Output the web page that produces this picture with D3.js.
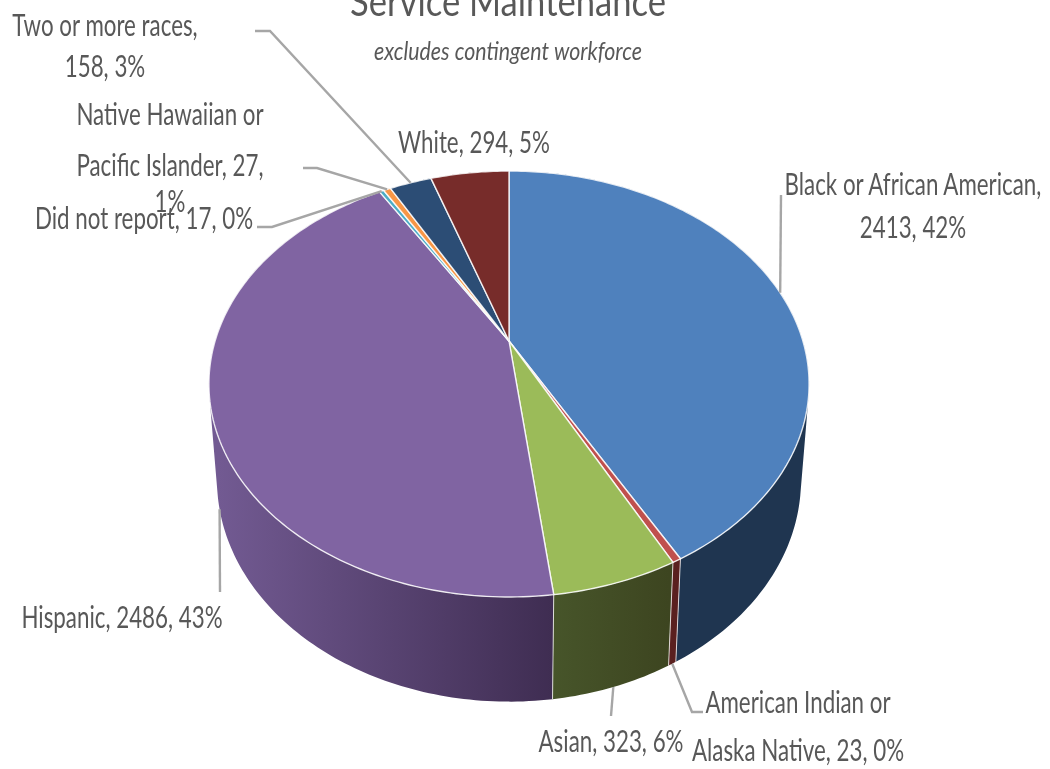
<!DOCTYPE html>
<html>
<head>
<meta charset="utf-8">
<script src="https://cdnjs.cloudflare.com/ajax/libs/d3/7.8.5/d3.min.js"></script>
<style>
  html, body { margin: 0; padding: 0; background: #fff; overflow: hidden; }
  text { font-family: Lato, "Liberation Sans", sans-serif; fill: #595959; }
</style>
</head>
<body>
<div class="graph"></div>
<script>
var categories = ["Black or African American", "American Indian or Alaska Native", "Asian", "Hispanic", "Did not report", "Native Hawaiian or Pacific Islander", "Two or more races", "White"];
var counts = [2413, 23, 323, 2486, 17, 27, 158, 294];
var percents = [42, 0, 6, 43, 0, 1, 3, 5];
var topColors = ["#4f81bd", "#c0504d", "#9bbb59", "#8064a2", "#4bacc6", "#f79646", "#2c4d75", "#772c2a"];
var sideLeft = ["#1f3550", "#5a201f", "#47552a", "#725a92", "#2c6a7c", "#a8631f", "#1b2f49", "#4d1c1b"];
var sideRight = ["#1f3550", "#5a201f", "#3d4520", "#3f2d52", "#2c6a7c", "#a8631f", "#1b2f49", "#4d1c1b"];
var titleText = "Service Maintenance";
var subtitleText = "excludes contingent workforce";

var width = 1050, height = 769;
var svg = d3.select(".graph").append("svg").attr("width", width).attr("height", height);
var defs = svg.append("defs");

// reference text is soft, a little blur gets closer
defs.append("filter").attr("id", "soft")
  .append("feGaussianBlur").attr("stdDeviation", 0.35);

// perspective of the disc: w pushes the front of the pie towards the viewer
var w = 0.2019;
var topDisc = { cx: 509, cy: 341, a: 204.3, b: 293.9 };
var botDisc = { cx: 509, cy: 435, a: 212.8, b: 286 };

function project(disc, angle) {
  var u = Math.sin(angle), v = -Math.cos(angle);
  var den = 1 - w * v;
  return [disc.cx + disc.b * u / den, disc.cy + disc.a * v / den];
}

function arcPoints(disc, a0, a1) {
  var n = Math.max(2, Math.ceil((a1 - a0) * 60));
  return d3.range(n + 1).map(function (i) {
    return project(disc, a0 + (a1 - a0) * i / n);
  });
}

var line = d3.line();
var slices = d3.pie().sort(null).value(function (d) { return d; })(counts);

// wall of one slice as thin quads, all wound the same way so that the fill is their union
function wallPath(s) {
  var t = arcPoints(topDisc, s.startAngle, s.endAngle);
  var b = arcPoints(botDisc, s.startAngle, s.endAngle);
  var d = "";
  for (var i = 0; i < t.length - 1; i++) {
    var quad = [t[i], t[i + 1], b[i + 1], b[i]];
    if (d3.polygonArea(quad) < 0) quad.reverse();
    d += line(quad) + "Z";
  }
  return d;
}

slices.forEach(function (s, i) {
  var x0 = project(botDisc, s.startAngle)[0], x1 = project(botDisc, s.endAngle)[0];
  var grad = defs.append("linearGradient")
    .attr("id", "side-" + i)
    .attr("gradientUnits", "userSpaceOnUse")
    .attr("x1", i === 3 ? topDisc.cx - 290 : Math.min(x0, x1))
    .attr("x2", Math.max(x0, x1))
    .attr("y1", 0).attr("y2", 0);
  grad.append("stop").attr("offset", "0%").attr("stop-color", sideLeft[i]);
  grad.append("stop").attr("offset", "100%").attr("stop-color", sideRight[i]);
});

// side wall first, back slices before the front ones, the top disc hides the rest
var sideOrder = [4, 5, 6, 7, 0, 3, 2, 1];
svg.append("g").selectAll("path")
  .data(sideOrder)
  .enter().append("path")
  .attr("d", function (i) { return wallPath(slices[i]); })
  .attr("fill", function (i) { return "url(#side-" + i + ")"; });

// white edges between the walls
svg.append("g").selectAll("line")
  .data(slices)
  .enter().append("line")
  .attr("x1", function (s) { return project(topDisc, s.startAngle)[0]; })
  .attr("y1", function (s) { return project(topDisc, s.startAngle)[1]; })
  .attr("x2", function (s) { return project(botDisc, s.startAngle)[0]; })
  .attr("y2", function (s) { return project(botDisc, s.startAngle)[1]; })
  .attr("stroke", "#fff").attr("stroke-opacity", 0.75).attr("stroke-width", 1);

svg.append("g").selectAll("path")
  .data(slices)
  .enter().append("path")
  .attr("d", function (s) {
    return line([[topDisc.cx, topDisc.cy]].concat(arcPoints(topDisc, s.startAngle, s.endAngle))) + "Z";
  })
  .attr("fill", function (s, i) { return topColors[i]; })
  .attr("stroke", "#fff").attr("stroke-opacity", 0.85).attr("stroke-width", 1.4).attr("stroke-linejoin", "round");

// label layout: lines with anchor centre, and how the leader leaves the slice
var labelLayout = [
  { lines: [categories[0] + ",", counts[0] + ", " + percents[0] + "%"], x: 913, y: [195, 238], disc: topDisc, via: [[781, 195]] },
  { lines: ["American Indian or", "Alaska Native, " + counts[1] + ", " + percents[1] + "%"], x: 798, y: [713, 761], disc: botDisc, via: [[692, 712], [703, 712]] },
  { lines: [categories[2] + ", " + counts[2] + ", " + percents[2] + "%"], x: 611, y: [752], disc: botDisc, via: [[611, 716]] },
  { lines: [categories[3] + ", " + counts[3] + ", " + percents[3] + "%"], x: 122, y: [628], disc: botDisc, via: [[220, 592]] },
  { lines: [categories[4] + ", " + counts[4] + ", " + percents[4] + "%"], x: 144, y: [229], disc: topDisc, via: [[272, 227], [257, 227]] },
  { lines: ["Native Hawaiian or", "Pacific Islander, " + counts[5] + ",", percents[5] + "%"], x: 170, y: [125, 176, 212], disc: topDisc, via: [[317, 168], [303, 168]] },
  { lines: [categories[6] + ",", counts[6] + ", " + percents[6] + "%"], x: 105, y: [36, 77], disc: topDisc, via: [[270, 31], [255, 31]] },
  { lines: [categories[7] + ", " + counts[7] + ", " + percents[7] + "%"], x: 474, y: [153], disc: null, via: [] }
];

var leaders = svg.append("g");
var labels = svg.append("g").attr("filter", "url(#soft)");

// the source font is squeezed sideways
function squeezed(g, t, x, y, size, sx) {
  return g.append("text")
    .attr("transform", "translate(" + x + "," + y + ") scale(" + sx + ",1)")
    .attr("text-anchor", "middle").attr("font-size", size)
    .text(t);
}

labelLayout.forEach(function (d, i) {
  if (d.disc) {
    var s = slices[i];
    var start = project(d.disc, (s.startAngle + s.endAngle) / 2);
    leaders.append("path")
      .attr("d", line([start].concat(d.via)))
      .attr("fill", "none").attr("stroke", "#a6a6a6").attr("stroke-width", 2.4);
  }
  d.lines.forEach(function (t, k) {
    squeezed(labels, t, d.x, d.y[k], 30, 0.745);
  });
});

squeezed(labels, titleText, 508, 16, 40, 0.865);
squeezed(labels, subtitleText, 508, 60, 25, 0.855).attr("font-style", "italic");
</script>
</body>
</html>
